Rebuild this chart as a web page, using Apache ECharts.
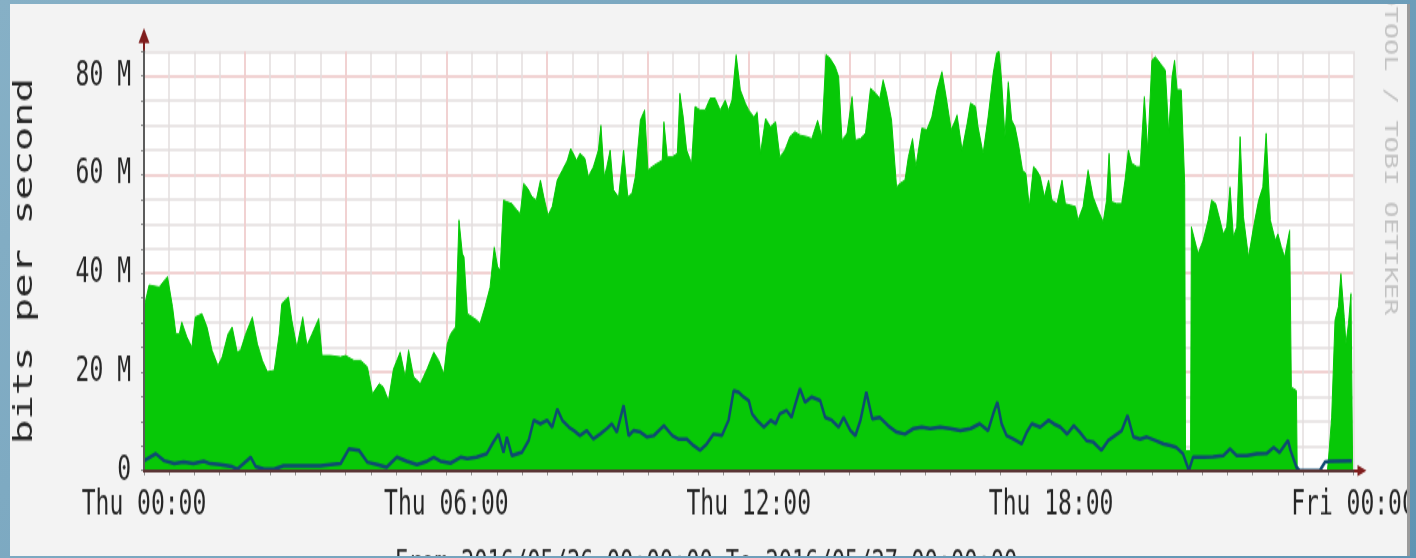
<!DOCTYPE html>
<html>
<head>
<meta charset="utf-8">
<script src="https://cdn.jsdelivr.net/npm/echarts@6/dist/echarts.min.js"></script>
<style>
    html, body {
        margin: 0;
        width: 1416px;
        height: 558px;
        overflow: hidden;
        background: linear-gradient(135deg, #86b0c6 0%, #76a4be 50%, #5f94b3 100%);
    }
    .panel {
        position: absolute;
        left: 10px;
        top: 4px;
        width: 1400px;
        height: 552px;
        box-sizing: border-box;
        background: #f3f3f3;
        border-right: 3px solid #9a9a9a;
        overflow: hidden;
    }
    /* the original rrd image is stretched vertically, so is the chart */
    .EC {
        position: absolute;
        left: -10px;
        top: -4px;
        width: 1416px;
        height: 372px;
        transform: scaleY(1.5);
        transform-origin: 0 0;
    }
</style>
</head>
<body>
<div class="panel"><div class="EC"></div></div>
<script>
// minutes after Thu 00:00, traffic in Mbit/s
const inMinutes = [0, 6, 18, 28, 34, 38, 42, 45, 51, 57, 61, 69, 75, 81, 88, 93, 100, 105, 111, 115,
    121, 129, 135, 141, 147, 155, 161, 164, 172, 176, 182, 189, 194, 200, 208, 212, 222, 234, 240, 250,
    258, 266, 272, 280, 285, 291, 297, 305, 311, 315, 321, 329, 337, 345, 351, 357, 361, 365, 371, 375,
    379, 381, 385, 391, 396, 400, 406, 412, 417, 421, 424, 428, 432, 438, 444, 448, 452, 457, 462, 467,
    472, 476, 481, 486, 492, 498, 504, 508, 512, 515, 519, 525, 529, 535, 541, 544, 548, 551, 555, 559,
    565, 571, 576, 581, 585, 591, 596, 600, 605, 611, 617, 619, 623, 629, 635, 638, 642, 646, 652, 656,
    662, 668, 674, 680, 686, 692, 696, 700, 705, 710, 716, 720, 726, 730, 734, 740, 746, 752, 757, 763,
    769, 775, 781, 789, 795, 802, 807, 812, 817, 823, 827, 831, 837, 843, 847, 853, 859, 865, 871, 876,
    880, 884, 890, 896, 900, 906, 910, 915, 919, 926, 932, 938, 944, 950, 955, 961, 966, 968, 974, 980,
    984, 990, 993, 999, 1005, 1011, 1015, 1018, 1021, 1025, 1029, 1033, 1037, 1041, 1046, 1050, 1054, 1059, 1063, 1067,
    1072, 1077, 1081, 1087, 1093, 1097, 1103, 1109, 1112, 1118, 1124, 1130, 1136, 1142, 1146, 1149, 1152, 1158, 1164, 1168,
    1172, 1176, 1182, 1186, 1191, 1195, 1200, 1204, 1210, 1216, 1220, 1224, 1227, 1230, 1235, 1239, 1240, 1246, 1247, 1255,
    1261, 1267, 1271, 1276, 1281, 1285, 1289, 1293, 1297, 1301, 1305, 1309, 1315, 1321, 1327, 1332, 1336, 1341, 1347, 1350,
    1354, 1358, 1364, 1366, 1372, 1373, 1409, 1411, 1414, 1418, 1422, 1425, 1429, 1431, 1434, 1437, 1439]
const inMbps = [33.0, 37.6, 37.2, 39.3, 33.2, 27.7, 27.7, 30.1, 27.1, 25.0, 31.1, 31.8, 29.1, 24.4, 21.3, 23.0, 27.7, 29.1, 24.0, 24.4,
    27.7, 31.1, 25.7, 22.3, 20.0, 20.3, 27.7, 33.8, 35.2, 30.5, 25.0, 31.1, 25.4, 27.7, 30.8, 23.3, 23.3, 23.0, 23.3, 22.3,
    22.3, 21.0, 15.6, 17.6, 16.9, 14.2, 20.6, 24.0, 19.0, 24.4, 19.0, 17.6, 20.6, 24.0, 22.3, 19.6, 25.7, 27.7, 29.1, 50.8,
    44.0, 43.3, 31.8, 31.1, 30.5, 29.8, 33.2, 37.2, 45.3, 41.3, 40.6, 54.8, 54.5, 54.1, 52.8, 52.1, 58.2, 57.2, 55.5, 54.8,
    58.9, 55.5, 51.8, 53.5, 58.9, 60.9, 62.9, 65.3, 64.0, 62.9, 64.3, 63.3, 59.6, 61.6, 65.0, 70.0, 59.6, 61.6, 65.0, 56.9,
    55.5, 65.0, 55.5, 56.2, 59.6, 71.1, 73.1, 60.9, 61.6, 62.3, 62.9, 70.7, 63.6, 63.6, 64.3, 76.5, 71.7, 65.0, 62.3, 73.8,
    73.1, 73.1, 75.5, 75.5, 73.1, 75.1, 73.1, 75.1, 84.3, 77.2, 74.5, 73.1, 71.7, 72.7, 64.3, 71.4, 69.7, 70.7, 63.6, 65.0,
    67.7, 68.7, 68.0, 67.7, 67.3, 71.0, 67.7, 84.3, 83.6, 81.9, 79.9, 67.0, 68.4, 75.8, 67.0, 67.3, 68.4, 77.5, 76.5, 75.5,
    79.2, 76.5, 71.1, 57.5, 58.2, 58.9, 63.6, 67.3, 61.6, 69.4, 69.1, 71.7, 77.2, 80.9, 75.8, 69.1, 71.1, 72.1, 65.0, 70.4,
    74.5, 73.8, 69.7, 64.3, 71.7, 80.5, 84.6, 85.0, 79.2, 67.7, 78.8, 71.1, 69.7, 66.3, 60.9, 60.2, 53.5, 61.6, 60.9, 59.6,
    55.5, 58.9, 54.8, 54.1, 58.9, 54.1, 53.8, 53.5, 50.8, 53.5, 60.9, 55.5, 52.8, 50.4, 54.8, 64.3, 54.5, 54.1, 54.1, 58.9,
    65.0, 62.3, 61.6, 61.6, 75.8, 65.0, 83.2, 83.9, 82.6, 81.2, 68.4, 79.9, 83.2, 77.2, 77.2, 58.2, 4.0, 4.0, 49.4, 44.0,
    46.7, 50.8, 54.8, 54.1, 50.8, 48.0, 49.4, 57.5, 47.4, 49.4, 67.7, 51.4, 43.3, 49.4, 54.8, 57.5, 68.4, 50.8, 46.7, 48.0,
    45.4, 43.3, 48.7, 16.9, 16.2, 0, 0, 4.0, 10.8, 30.5, 33.2, 39.9, 31.1, 25.7, 29.8, 35.9, 0]

const outMinutes = [0, 14, 24, 36, 47, 59, 71, 79, 91, 105, 111, 127, 133, 143, 155, 166, 194, 210, 234, 244,
    256, 266, 278, 289, 301, 313, 325, 337, 345, 353, 365, 377, 385, 396, 408, 416, 422, 428, 432, 438,
    450, 458, 464, 472, 480, 486, 492, 498, 506, 512, 519, 527, 535, 543, 551, 557, 563, 571, 577, 583,
    591, 599, 607, 619, 629, 636, 646, 654, 662, 670, 678, 688, 696, 702, 708, 714, 720, 724, 730, 738,
    746, 752, 757, 765, 771, 775, 781, 787, 795, 805, 811, 819, 827, 833, 841, 847, 853, 860, 867, 876,
    886, 896, 906, 916, 926, 936, 948, 960, 972, 984, 995, 1005, 1011, 1016, 1021, 1027, 1035, 1045, 1051, 1057,
    1067, 1077, 1083, 1091, 1099, 1107, 1114, 1122, 1130, 1140, 1148, 1156, 1164, 1171, 1178, 1186, 1194, 1204, 1214, 1222,
    1229, 1237, 1244, 1249, 1261, 1273, 1285, 1293, 1301, 1313, 1325, 1337, 1345, 1352, 1362, 1365, 1372, 1376, 1400, 1406,
    1412, 1438]
const outMbps = [2.0, 3.4, 2.0, 1.4, 1.7, 1.4, 1.9, 1.4, 1.2, 0.8, 0.3, 2.7, 0.8, 0.3, 0.3, 1.0, 1.0, 1.0, 1.4, 4.4,
    4.1, 1.7, 1.2, 0.7, 2.7, 1.9, 1.2, 1.9, 2.7, 1.9, 1.5, 2.7, 2.4, 2.7, 3.4, 5.8, 7.4, 3.7, 6.8, 3.0,
    3.7, 6.1, 10.2, 9.5, 10.2, 8.8, 12.5, 10.2, 8.8, 8.1, 7.1, 8.1, 6.4, 7.4, 8.5, 9.5, 7.8, 13.2, 7.1, 8.1,
    7.8, 6.8, 7.1, 9.1, 7.1, 6.4, 6.4, 5.1, 4.1, 5.4, 7.4, 7.1, 10.2, 16.2, 15.9, 14.9, 14.2, 11.5, 10.2, 8.8,
    10.2, 9.5, 11.5, 12.2, 10.8, 13.2, 16.6, 13.9, 14.9, 14.2, 10.8, 10.2, 8.8, 10.8, 8.1, 7.1, 10.2, 15.9, 10.5, 10.8,
    9.1, 7.8, 7.4, 8.5, 8.8, 8.5, 8.8, 8.5, 8.1, 8.5, 9.5, 8.1, 11.5, 13.9, 9.5, 7.1, 6.4, 5.4, 7.8, 9.5,
    8.8, 10.2, 9.5, 8.8, 7.4, 9.1, 7.8, 6.1, 5.8, 4.1, 6.1, 7.1, 8.1, 11.2, 6.8, 6.4, 6.8, 6.1, 5.4, 5.1,
    4.7, 3.4, 0, 2.7, 2.7, 2.8, 3.0, 4.4, 3.0, 3.0, 3.4, 3.5, 4.7, 3.7, 6.1, 4.1, 0.7, 0, 0, 1.7,
    1.9, 2.0]

const timeLabels = ['Thu 00:00', 'Thu 06:00', 'Thu 12:00', 'Thu 18:00', 'Fri 00:00']
const valueLabels = ['0', '20 M', '40 M', '60 M', '80 M']

window.onload = () => {
    let EC = echarts.init(document.querySelector('.EC'))
    const mono = 'DejaVu Sans Mono'
    const ink = '#262626'
    const minorGrid = { show: true, lineStyle: { color: '#e3dede', width: 1.5 } }
    const majorGrid = { show: true, showMaxLine: false, lineStyle: { color: '#f3cbcb', width: 1.5 } }
    const off = { show: false }
    const hours = { type: 'value', gridIndex: 0, position: 'bottom', min: 0, max: 1440 }
    const bits = { type: 'value', gridIndex: 0, position: 'left', min: 0, max: 85 }

    let option = {
        animation: false,
        grid: [{
            left: 144, right: 62.5, top: 34.3, bottom: 58.3,
            show: true, backgroundColor: '#ffffff', borderWidth: 0,
            outerBoundsMode: 'none'
        }, {
            // only carries the axis arrows
            left: 144, right: 54, top: 23.7, bottom: 58.3,
            outerBoundsMode: 'none'
        }],
        xAxis: [
            { ...hours, interval: 30, splitLine: minorGrid, axisLine: off, axisLabel: off,
              axisTick: { show: true, length: 3, lineStyle: { color: '#9a9a9a' } } },
            { ...hours, interval: 120, splitLine: majorGrid, axisLine: off, axisLabel: off, axisTick: off },
            { ...hours, interval: 360, z: 5, splitLine: off, axisTick: off,
              axisLine: { show: true, lineStyle: { color: '#5a3535', width: 2 } },
              axisLabel: {
                  margin: 12, color: ink, fontFamily: mono, fontSize: 23,
                  formatter: v => timeLabels[v / 360]
              } },
            { ...hours, position: 'top', interval: 30, splitLine: off, axisLine: off, axisLabel: off,
              axisTick: { show: true, inside: true, length: 3, lineStyle: { color: '#8a8a8a' } } },
            { type: 'value', gridIndex: 1, position: 'bottom', min: 0, max: 1, z: 4,
              splitLine: off, axisTick: off, axisLabel: off,
              axisLine: { show: true, symbol: ['none', 'triangle'], symbolSize: [7.5, 9],
                  lineStyle: { color: '#7f1d1d', width: 2 } } }
        ],
        yAxis: [
            { ...bits, interval: 5, splitLine: minorGrid, axisLine: off, axisLabel: off,
              axisTick: { show: true, length: 3, lineStyle: { color: '#8a8a8a' } } },
            { ...bits, interval: 20, splitLine: majorGrid, axisLine: off, axisLabel: off, axisTick: off },
            { ...bits, interval: 20, z: 5, splitLine: off, axisTick: off,
              axisLine: { show: true, lineStyle: { color: '#5c5c5c', width: 2 } },
              axisLabel: {
                  margin: 13, color: ink, fontFamily: mono, fontSize: 23, showMaxLabel: false,
                  formatter: v => v % 20 === 0 ? valueLabels[v / 20] : ''
              },
              name: 'bits per second', nameLocation: 'middle', nameRotate: 90, nameGap: 106,
              nameTextStyle: { color: ink, fontFamily: mono, fontSize: 27 } },
            { ...bits, position: 'right', interval: 5, splitLine: off, axisLine: off, axisLabel: off,
              axisTick: { show: true, inside: true, length: 3, lineStyle: { color: '#8a8a8a' } } },
            { type: 'value', gridIndex: 1, position: 'left', min: 0, max: 1, z: 4,
              splitLine: off, axisTick: off, axisLabel: off,
              axisLine: { show: true, symbol: ['none', 'triangle'], symbolSize: [11, 10],
                  lineStyle: { color: '#7f1d1d', width: 2 } } }
        ],
        graphic: [{
            type: 'text', x: 1390, y: 91, rotation: -Math.PI / 2,
            style: { text: 'RRDTOOL / TOBI OETIKER', font: '18px "DejaVu Sans Mono"', fill: '#c2c2c2',
                     align: 'center', verticalAlign: 'middle' }
        }, {
            type: 'text', x: 706, y: 365,
            style: { text: 'From 2016/05/26 00:00:00 To 2016/05/27 00:00:00', font: '22px "DejaVu Sans Mono"',
                     fill: ink, align: 'center', verticalAlign: 'top' }
        }],
        series: [{
            name: 'In',
            type: 'line',
            xAxisIndex: 0,
            yAxisIndex: 0,
            symbol: 'none',
            lineStyle: { color: '#07c807', width: 1 },
            areaStyle: { color: '#07c807', opacity: 1 },
            data: inMinutes.map((m, i) => [m, inMbps[i]])
        }, {
            name: 'Out',
            type: 'line',
            xAxisIndex: 0,
            yAxisIndex: 0,
            symbol: 'none',
            z: 4,
            lineStyle: { color: '#0f4a72', width: 2.5 },
            data: outMinutes.map((m, i) => [m, outMbps[i]])
        }]
    }
    EC.setOption(option)
}
</script>
</body>
</html>
